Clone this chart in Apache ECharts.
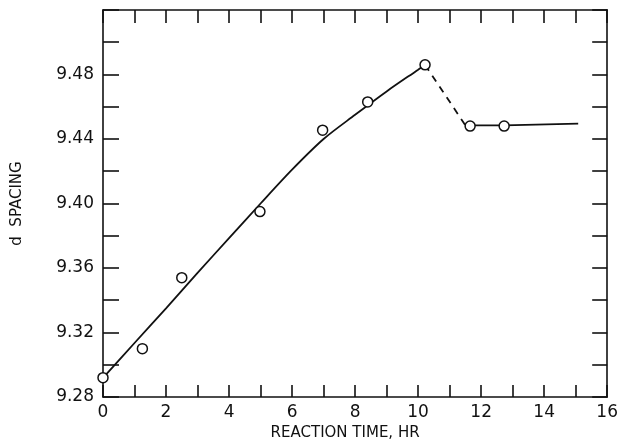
<!DOCTYPE html>
<html>
<head>
<meta charset="utf-8">
<script src="https://cdn.jsdelivr.net/npm/echarts@6/dist/echarts.min.js"></script>
<style>
html,body{margin:0;padding:0;background:#fff;}
#c{width:621px;height:446px;}
</style>
</head>
<body>
<div id="c"></div>
<script>
// Measured points (open circles)
const pointTime = [0, 1.25, 2.5, 4.98, 6.97, 8.4, 10.22, 11.65, 12.73];
const pointSpacing = [9.292, 9.310, 9.354, 9.395, 9.4455, 9.463, 9.486, 9.448, 9.448];
// Smooth solid curve (rising part)
const curveTime = [0.05, 1, 2, 3, 4, 5, 6, 7, 8, 9, 10, 10.22];
const curveSpacing = [9.293, 9.3135, 9.335, 9.357, 9.3785, 9.400, 9.421, 9.440, 9.455, 9.4695, 9.483, 9.486];
// Dashed drop
const dashTime = [10.22, 11.5];
const dashSpacing = [9.486, 9.4485];
// Flat solid part
const flatTime = [11.5, 12.73, 15.08];
const flatSpacing = [9.4485, 9.4485, 9.4495];
// Axis labels
const xLabelValues = [0, 2, 4, 6, 8, 10, 12, 14, 16];
const yLabelValues = ['9.28', '9.32', '9.36', '9.40', '9.44', '9.48'];

const zip = (a, b) => a.map((v, i) => [v, b[i]]);
const FONT = 'DejaVu Sans';

const chart = echarts.init(document.getElementById('c'), null, {renderer: 'canvas'});
const lineStyleAxis = {color: '#111', width: 1.6};
chart.setOption({
  animation: false,
  backgroundColor: '#fff',
  grid: {left: 103, right: 13, top: 10, bottom: 46},
  xAxis: [{
    type: 'value', min: 0, max: 16, interval: 1, position: 'bottom',
    axisLine: {show: true, onZero: false, lineStyle: lineStyleAxis},
    axisTick: {show: true, inside: true, length: 12, lineStyle: lineStyleAxis},
    splitLine: {show: false},
    axisLabel: {
      color: '#111', fontFamily: FONT, fontSize: 17, margin: 7,
      formatter: v => xLabelValues.includes(Math.round(v)) && Math.abs(v - Math.round(v)) < 1e-6 ? String(Math.round(v)) : ''
    },
    name: 'REACTION TIME, HR', nameLocation: 'middle', nameGap: 29,
    nameTextStyle: {color: '#111', fontFamily: FONT, fontSize: 15, padding: [0, 20, 0, 0]}
  }, {
    type: 'value', min: 0, max: 16, interval: 1, position: 'top',
    axisLine: {show: true, onZero: false, lineStyle: lineStyleAxis},
    axisTick: {show: true, inside: true, length: 13, lineStyle: lineStyleAxis},
    splitLine: {show: false}, axisLabel: {show: false}
  }],
  yAxis: [{
    type: 'value', min: 9.28, max: 9.52, interval: 0.02, position: 'left',
    axisLine: {show: true, onZero: false, lineStyle: lineStyleAxis},
    axisTick: {show: true, inside: true, length: 16, lineStyle: lineStyleAxis},
    splitLine: {show: false},
    axisLabel: {
      color: '#111', fontFamily: FONT, fontSize: 17, margin: 9,
      formatter: v => { const s = v.toFixed(2); return yLabelValues.includes(s) ? s : ''; }
    },
    name: 'd  SPACING', nameLocation: 'middle', nameGap: 78,
    nameTextStyle: {color: '#111', fontFamily: FONT, fontSize: 15}
  }, {
    type: 'value', min: 9.28, max: 9.52, interval: 0.02, position: 'right',
    axisLine: {show: true, onZero: false, lineStyle: lineStyleAxis},
    axisTick: {show: true, inside: true, length: 15, lineStyle: lineStyleAxis},
    splitLine: {show: false}, axisLabel: {show: false}
  }],
  series: [{
    type: 'line', xAxisIndex: 0, yAxisIndex: 0, data: zip(curveTime, curveSpacing),
    smooth: 0.3, showSymbol: false, symbol: 'none',
    lineStyle: {color: '#111', width: 1.8}
  }, {
    type: 'line', xAxisIndex: 0, yAxisIndex: 0, data: zip(dashTime, dashSpacing),
    showSymbol: false, symbol: 'none',
    lineStyle: {color: '#111', width: 1.8, type: [7, 6]}
  }, {
    type: 'line', xAxisIndex: 0, yAxisIndex: 0, data: zip(flatTime, flatSpacing),
    showSymbol: false, symbol: 'none',
    lineStyle: {color: '#111', width: 1.8}
  }, {
    type: 'scatter', xAxisIndex: 0, yAxisIndex: 0, data: zip(pointTime, pointSpacing),
    symbol: 'circle', symbolSize: 10, z: 5,
    itemStyle: {color: '#fff', borderColor: '#111', borderWidth: 1.5, opacity: 1}
  }]
});
</script>
</body>
</html>
